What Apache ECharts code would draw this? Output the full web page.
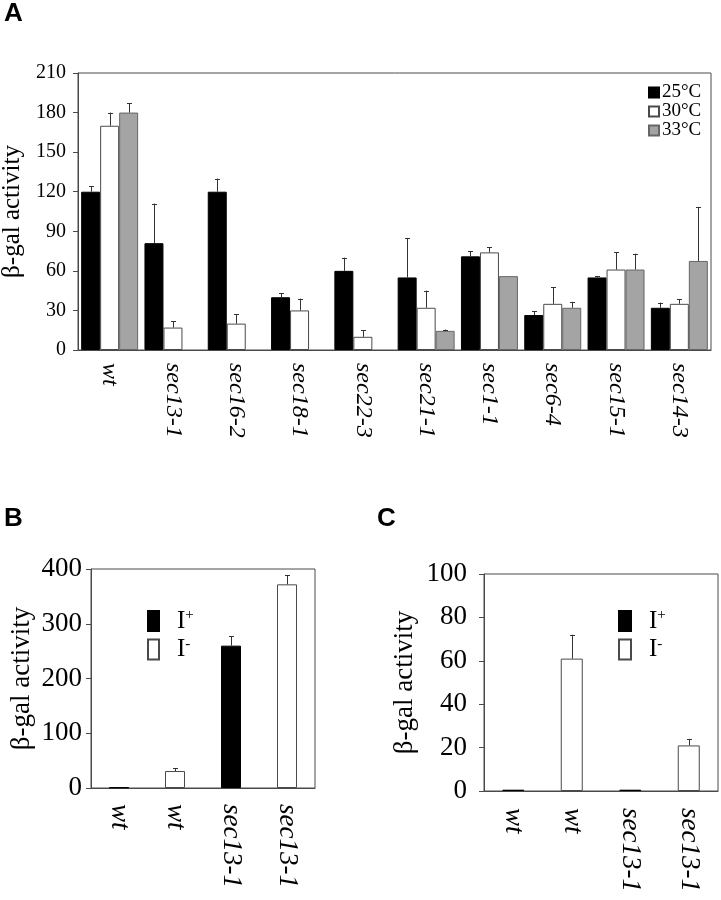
<!DOCTYPE html>
<html>
<head>
<meta charset="utf-8">
<script src="https://cdn.jsdelivr.net/npm/echarts@6/dist/echarts.min.js"></script>
<style>html,body{margin:0;padding:0;background:#fff}#c{width:721px;height:900px}</style>
</head>
<body>
<div id="c"></div>
<script>
// ---- Panel A data ----
const catsA = ['wt','sec13-1','sec16-2','sec18-1','sec22-3','sec21-1','sec1-1','sec6-4','sec15-1','sec14-3'];
const a25 = [120, 81, 120, 40, 60, 55, 71, 26.5, 55, 32];
const a25Err = [4, 30, 10, 3, 10, 30, 4, 3, 1, 4];
const a30 = [170, 17, 20, 30, 10, 32, 74, 35, 61, 35];
const a30Err = [10, 5, 7, 9, 5, 13, 4, 12.5, 13, 3.5];
const a33 = [180, '-', '-', '-', '-', 14.5, 56, 32, 61, 67.5];
const a33Err = [7, 0, 0, 0, 0, 1, 0, 4.5, 12, 41];
const ticksA = [0, 30, 60, 90, 120, 150, 180, 210];

// ---- Panel B data ----
const catsB = ['wt','wt','sec13-1','sec13-1'];
const bIp = [1, '-', 260, '-'];
const bIpErr = [0, 0, 17, 0];
const bIm = ['-', 31, '-', 372];
const bImErr = [0, 5, 0, 17];
const ticksB = [0, 100, 200, 300, 400];

// ---- Panel C data ----
const catsC = ['wt','wt','sec13-1','sec13-1'];
const cIp = [0.6, '-', 0.6, '-'];
const cIpErr = [0, 0, 0, 0];
const cIm = ['-', 61, '-', 21];
const cImErr = [0, 11, 0, 3];
const ticksC = [0, 20, 40, 60, 80, 100];

const SERIF = 'Liberation Serif';
const EDGE = '#4a4a4a';

function errData(vals, errs, slot) {
  const out = [];
  vals.forEach((v, i) => {
    if (typeof v === 'number' && errs[i] > 0) out.push([i, v + errs[i], v, slot]);
  });
  return out;
}
function errRender(nSlots, gapFrac) {
  return function (params, api) {
    const band = api.size([1, 0])[0];
    const bw = nSlots ? band * (1 - gapFrac) / nSlots : 0;
    const slot = api.value(3);
    const off = nSlots ? (slot - (nSlots - 1) / 2) * bw : 0;
    const p1 = api.coord([api.value(0), api.value(1)]);
    const p0 = api.coord([api.value(0), api.value(2)]);
    const x = Math.round(p1[0] + off) + 0.5;
    const st = { stroke: '#333', lineWidth: 1 };
    return { type: 'group', children: [
      { type: 'line', shape: { x1: x, y1: p0[1], x2: x, y2: p1[1] }, style: st },
      { type: 'line', shape: { x1: x - 2.5, y1: Math.round(p1[1]) + 0.5, x2: x + 2.5, y2: Math.round(p1[1]) + 0.5 }, style: st }
    ]};
  };
}

function yAxis(gi, max, interval, fs, nameFs, nameGap, margin) {
  return {
    gridIndex: gi, type: 'value', min: 0, max: max, interval: interval,
    name: 'β-gal activity', nameLocation: 'middle', nameGap: nameGap,
    nameTextStyle: { fontFamily: SERIF, fontSize: nameFs, color: '#000' },
    axisLine: { show: true, lineStyle: { color: EDGE, width: 1 } },
    axisTick: { show: true, length: 5, lineStyle: { color: EDGE } },
    axisLabel: { fontFamily: SERIF, fontSize: fs, color: '#000', margin: margin },
    splitLine: { show: false }
  };
}
function xAxis(gi, cats, fs, margin) {
  return {
    gridIndex: gi, type: 'category', data: cats,
    axisLine: { show: true, lineStyle: { color: EDGE, width: 1 } },
    axisTick: { show: false },
    axisLabel: { rotate: -90, interval: 0, fontFamily: SERIF, fontStyle: 'italic', fontSize: fs, color: '#000', margin: margin }
  };
}
const legendFmt = name => name === 'I+' ? '{b|I}{s|+}' : '{b|I}{s|-}';
const legendRich = {
  b: { fontFamily: SERIF, fontSize: 25, color: '#000', padding: [0, 0, 0, 13], lineHeight: 26 },
  s: { fontFamily: SERIF, fontSize: 15, color: '#000', verticalAlign: 'top', lineHeight: 26 }
};

const blackStyle = { color: '#000', borderColor: '#000', borderWidth: 1 };
const whiteStyle = { color: '#fff', borderColor: EDGE, borderWidth: 1 };
const grayStyle = { color: '#a4a4a4', borderColor: '#666', borderWidth: 1 };

const option = {
  animation: false,
  backgroundColor: '#fff',
  grid: [
    { left: 78, top: 73, width: 633, height: 277, show: true, borderColor: EDGE, borderWidth: 1, containLabel: false, outerBoundsMode: 'none' },
    { left: 91, top: 569, width: 224, height: 219, show: true, borderColor: EDGE, borderWidth: 1, containLabel: false, outerBoundsMode: 'none' },
    { left: 484, top: 574, width: 234, height: 217, show: true, borderColor: EDGE, borderWidth: 1, containLabel: false, outerBoundsMode: 'none' }
  ],
  xAxis: [ xAxis(0, catsA, 24, 13), xAxis(1, catsB, 27, 16), xAxis(2, catsC, 27, 17) ],
  yAxis: [ yAxis(0, 210, 30, 20, 25, 47, 12), yAxis(1, 400, 100, 27, 27, 56, 9), yAxis(2, 100, 20, 27, 27, 66, 17) ],
  legend: [
    { data: ['25°C', '30°C', '33°C'], orient: 'vertical', left: 648, top: 83, padding: 0, itemWidth: 10, itemHeight: 10, itemGap: 0, icon: 'rect',
      textStyle: { fontFamily: SERIF, fontSize: 19, lineHeight: 19, color: '#000', padding: [0, 0, 0, -2] }, selectedMode: false },
    { data: ['I+', 'I-'], orient: 'vertical', left: 147, top: 608, padding: 0, itemWidth: 11, itemHeight: 20, itemGap: 3, icon: 'rect',
      formatter: legendFmt, textStyle: { rich: legendRich }, selectedMode: false },
    { data: ['I+', 'I-'], orient: 'vertical', left: 618, top: 608, padding: 0, itemWidth: 12, itemHeight: 20, itemGap: 3, icon: 'rect',
      formatter: legendFmt, textStyle: { rich: legendRich }, selectedMode: false }
  ],
  graphic: [
    { type: 'text', left: 4, top: 1, style: { text: 'A', font: 'bold 26px Liberation Sans', fill: '#000' } },
    { type: 'text', left: 4, top: 506, style: { text: 'B', font: 'bold 26px Liberation Sans', fill: '#000' } },
    { type: 'text', left: 377, top: 506, style: { text: 'C', font: 'bold 26px Liberation Sans', fill: '#000' } }
  ],
  series: [
    { name: '25°C', type: 'bar', xAxisIndex: 0, yAxisIndex: 0, data: a25, barGap: '0%', barCategoryGap: '10%', itemStyle: blackStyle },
    { name: '30°C', type: 'bar', xAxisIndex: 0, yAxisIndex: 0, data: a30, itemStyle: whiteStyle },
    { name: '33°C', type: 'bar', xAxisIndex: 0, yAxisIndex: 0, data: a33, itemStyle: grayStyle },
    { type: 'custom', xAxisIndex: 0, yAxisIndex: 0, data: errData(a25, a25Err, 0).concat(errData(a30, a30Err, 1), errData(a33, a33Err, 2)), renderItem: errRender(3, 0.1), z: 5 },

    { name: 'I+', type: 'bar', xAxisIndex: 1, yAxisIndex: 1, data: bIp, barWidth: 20, barGap: '-100%', itemStyle: blackStyle },
    { name: 'I-', type: 'bar', xAxisIndex: 1, yAxisIndex: 1, data: bIm, barWidth: 20, itemStyle: whiteStyle },
    { type: 'custom', xAxisIndex: 1, yAxisIndex: 1, data: errData(bIp, bIpErr, 0).concat(errData(bIm, bImErr, 0)), renderItem: errRender(0, 0), z: 5 },

    { name: 'I+', type: 'bar', xAxisIndex: 2, yAxisIndex: 2, data: cIp, barWidth: 22, barGap: '-100%', itemStyle: blackStyle },
    { name: 'I-', type: 'bar', xAxisIndex: 2, yAxisIndex: 2, data: cIm, barWidth: 22, itemStyle: whiteStyle },
    { type: 'custom', xAxisIndex: 2, yAxisIndex: 2, data: errData(cIp, cIpErr, 0).concat(errData(cIm, cImErr, 0)), renderItem: errRender(0, 0), z: 5 }
  ]
};
const chart = echarts.init(document.getElementById('c'), null, { renderer: 'canvas' });
chart.setOption(option);
</script>
</body>
</html>
